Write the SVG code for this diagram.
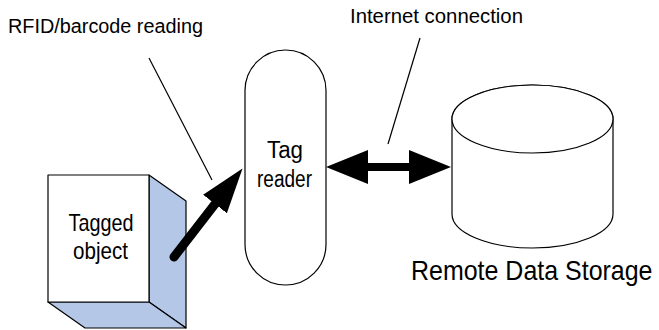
<svg xmlns="http://www.w3.org/2000/svg" width="659" height="330" viewBox="0 0 659 330">
  <style>
    .lbl { font-family: "Liberation Sans", Arial, sans-serif; fill: #000; }
    .outline { stroke: #000; stroke-width: 1.2; stroke-linejoin: round; }
    .thin { stroke: #000; stroke-width: 1.2; fill: none; }
  </style>
  <defs>
    <!-- arrowheads drawn in user units so their size does not scale with stroke -->
    <marker id="headWide" markerUnits="userSpaceOnUse" markerWidth="44" markerHeight="36" refX="0" refY="17" orient="auto-start-reverse">
      <path d="M0,0 L42,17 L0,34 Z" fill="#000"/>
    </marker>
    <marker id="headTilt" markerUnits="userSpaceOnUse" markerWidth="48" markerHeight="32" refX="0" refY="15" orient="auto">
      <path d="M0,0 L45,15 L0,30 Z" fill="#000"/>
    </marker>
  </defs>
  <rect width="659" height="330" fill="#fff"/>

  <!-- Labels for the links -->
  <text class="lbl" x="8" y="33" font-size="20" textLength="195" lengthAdjust="spacingAndGlyphs">RFID/barcode reading</text>
  <text class="lbl" x="350" y="23" font-size="20" textLength="173" lengthAdjust="spacingAndGlyphs">Internet connection</text>

  <!-- Tagged object: a box drawn in cabinet projection -->
  <g id="tagged-object">
    <polygon class="outline" points="149,175 186,201 186,328 149,302" fill="#B4C7E7"/>
    <polygon class="outline" points="48,302 149,302 186,328 85,328" fill="#B4C7E7"/>
    <rect class="outline" x="48" y="175" width="101" height="127" fill="#fff"/>
    <text class="lbl" x="101" y="231" font-size="24" text-anchor="middle" textLength="65" lengthAdjust="spacingAndGlyphs">Tagged</text>
    <text class="lbl" x="100.5" y="259" font-size="24" text-anchor="middle" textLength="55" lengthAdjust="spacingAndGlyphs">object</text>
  </g>

  <!-- Tag reader -->
  <g id="tag-reader">
    <rect class="outline" x="245" y="50" width="81" height="235" rx="40.5" ry="40.5" fill="#fff"/>
    <text class="lbl" x="285" y="158" font-size="23" text-anchor="middle" textLength="36" lengthAdjust="spacingAndGlyphs">Tag</text>
    <text class="lbl" x="284.5" y="187" font-size="23" text-anchor="middle" textLength="55" lengthAdjust="spacingAndGlyphs">reader</text>
  </g>

  <!-- Remote data storage cylinder -->
  <g id="remote-data-storage">
    <path class="outline" fill="#fff" d="M452,119 L452,214 A80.5,34 0 0 0 613,214 L613,119 A80.5,34 0 0 0 452,119 Z"/>
    <ellipse class="outline" cx="532.5" cy="119" rx="80.5" ry="34" fill="#fff"/>
    <!-- caption set slightly condensed -->
    <text class="lbl" transform="translate(411,280) scale(0.925,1)" x="0" y="0" font-size="27">Remote Data Storage</text>
  </g>

  <!-- Connectors -->
  <g id="connectors">
    <!-- label leader lines -->
    <line class="thin" x1="149" y1="58" x2="212" y2="180"/>
    <line class="thin" x1="420" y1="38" x2="388" y2="144"/>
    <!-- object to reader -->
    <line x1="174" y1="257" x2="215" y2="204" stroke="#000" stroke-width="9" stroke-linecap="round" marker-end="url(#headTilt)"/>
    <!-- reader to storage, both ways -->
    <line x1="368" y1="167" x2="409" y2="167" stroke="#000" stroke-width="8" marker-start="url(#headWide)" marker-end="url(#headWide)"/>
  </g>
</svg>
